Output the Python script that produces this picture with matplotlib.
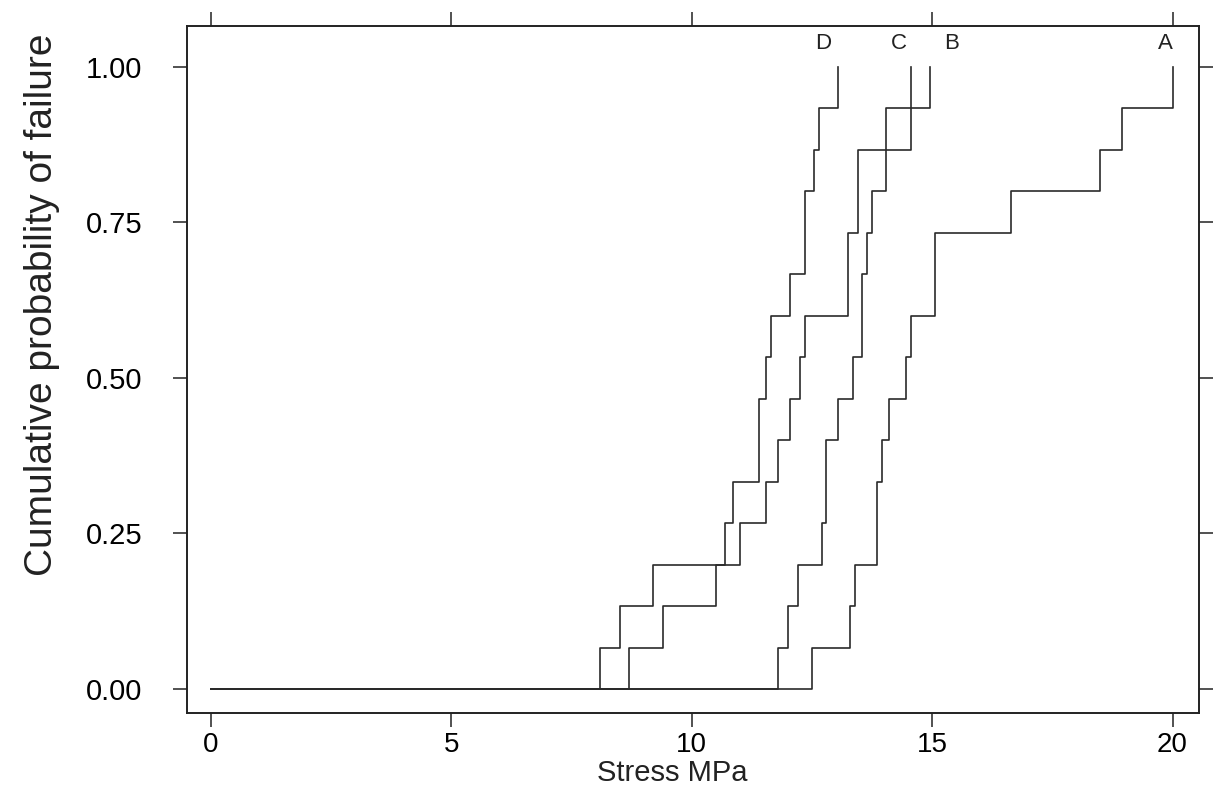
import numpy as np
import matplotlib
matplotlib.use("Agg")
import matplotlib.pyplot as plt

# failure stresses (MPa), 15 specimens each
stress_A = [12.5, 13.3, 13.4, 13.85, 13.85, 13.95, 14.1, 14.45, 14.55, 15.05, 15.05, 16.65, 18.5, 18.95, 20.0]
stress_B = [11.8, 12.0, 12.2, 12.7, 12.8, 12.8, 13.05, 13.35, 13.55, 13.55, 13.65, 13.75, 14.05, 14.05, 14.95]
stress_C = [8.7, 9.4, 10.5, 11.0, 11.55, 11.8, 12.05, 12.25, 12.35, 13.25, 13.25, 13.45, 13.45, 14.55, 14.55]
stress_D = [8.1, 8.5, 9.2, 10.7, 10.85, 11.4, 11.4, 11.55, 11.65, 12.05, 12.35, 12.35, 12.55, 12.65, 13.05]
series_names = ['A', 'B', 'C', 'D']
x_start = 0.0
x_ticks = [0, 5, 10, 15, 20]
y_ticks = [0.0, 0.25, 0.5, 0.75, 1.0]
y_tick_labels = ['0.00', '0.25', '0.50', '0.75', '1.00']

# label positions above the curves
label_x = {'A': 19.86, 'B': 15.41, 'C': 14.31, 'D': 12.73}
label_y = 1.038

sans = ['Liberation Sans', 'DejaVu Sans']

fig = plt.figure(figsize=(12.15, 7.87), dpi=100)
ax = fig.add_axes([0.1537, 0.0944, 0.8331, 0.8729])

data = {'A': stress_A, 'B': stress_B, 'C': stress_C, 'D': stress_D}
for name in series_names:
    s = np.sort(np.array(data[name]))
    n = len(s)
    xs = np.concatenate([[x_start], s])
    ys = np.concatenate([[0.0], np.arange(1, n + 1) / n])
    ax.step(xs, ys, where='post', color='#2a2a2a', lw=1.2)
    ax.text(label_x[name], label_y, name, ha='center', va='center',
            fontsize=16, family=sans, color='#222222')

ax.set_xlim(-0.505, 20.55)
ax.set_ylim(-0.038, 1.066)

ax.set_xticks(x_ticks)
ax.set_xticklabels([str(t) for t in x_ticks], family=sans, fontsize=20)
ax.set_yticks(y_ticks)
ax.set_yticklabels(y_tick_labels, family=sans, fontsize=21)

ax.tick_params(axis='both', direction='out', length=10, width=1.1, color='#222222')
ax.tick_params(axis='x', top=True, labeltop=False, pad=4)
ax.tick_params(axis='y', right=True, labelright=False, pad=22)

for sp in ax.spines.values():
    sp.set_linewidth(1.4)
    sp.set_color('#222222')

fig.text(672 / 1215, 1 - 773 / 787, 'Stress MPa', ha='center', va='center',
         fontsize=21, family=sans, color='#222222')
fig.text(42 / 1215, 1 - 305 / 787, 'Cumulative probability of failure',
         rotation=90, ha='center', va='center', fontsize=28, family=sans,
         color='#222222')

fig.savefig('out.png', dpi=100)
